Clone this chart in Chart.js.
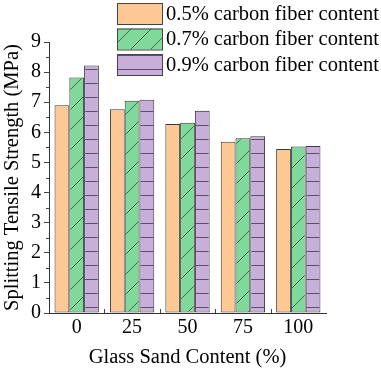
<!DOCTYPE html>
<html>
<head>
<meta charset="utf-8">
<script src="https://cdn.jsdelivr.net/npm/chart.js@4.4.0/dist/chart.umd.min.js"></script>
<style>
html,body{margin:0;padding:0;background:#fff;}
#wrap{width:381px;height:373px;}
</style>
</head>
<body>
<div id="wrap"><canvas id="c" width="381" height="373"></canvas></div>
<script>
const categories = ['0', '25', '50', '75', '100'];
const seriesLabels = ['0.5% carbon fiber content', '0.7% carbon fiber content', '0.9% carbon fiber content'];
const fiber05 = [6.9, 6.77, 6.28, 5.69, 5.45];
const fiber07 = [7.82, 7.05, 6.32, 5.8, 5.53];
const fiber09 = [8.22, 7.08, 6.72, 5.87, 5.55];
const yTicks = [0, 1, 2, 3, 4, 5, 6, 7, 8, 9];

const FONT = "'Liberation Serif', 'Times New Roman', serif";

function diagPattern(bg, line) {
  const s = 20;
  const c = document.createElement('canvas');
  c.width = s; c.height = s;
  const g = c.getContext('2d');
  g.fillStyle = bg; g.fillRect(0, 0, s, s);
  g.strokeStyle = line; g.lineWidth = 1;
  g.beginPath();
  g.moveTo(0, s); g.lineTo(s, 0);
  g.moveTo(-2, 2); g.lineTo(2, -2);
  g.moveTo(s - 2, s + 2); g.lineTo(s + 2, s - 2);
  g.stroke();
  return g.createPattern(c, 'repeat');
}
function horizPattern(bg, line) {
  const s = 14;
  const c = document.createElement('canvas');
  c.width = s; c.height = s;
  const g = c.getContext('2d');
  g.fillStyle = bg; g.fillRect(0, 0, s, s);
  g.fillStyle = line; g.fillRect(0, s - 1, s, 1);
  return g.createPattern(c, 'repeat');
}

const orange = '#FEC894';
const greenPat = diagPattern('#80D99B', '#3d6e4b');
const purplePat = horizPattern('#C8AFDA', '#5d4f6b');

const legendPlugin = {
  id: 'customLegend',
  afterDraw(chart) {
    const ctx = chart.ctx;
    ctx.save();
    chart.data.datasets.forEach((ds, i) => {
      const x = 117, y = 3 + i * 25.5, w = 45, h = 21;
      ctx.fillStyle = ds.backgroundColor;
      ctx.fillRect(x, y, w, h);
      ctx.strokeStyle = '#444';
      ctx.lineWidth = 1;
      ctx.strokeRect(x + 0.5, y + 0.5, w, h);
      ctx.fillStyle = '#000';
      ctx.font = '20.5px ' + FONT;
      ctx.textBaseline = 'middle';
      ctx.textAlign = 'left';
      ctx.fillText(ds.label, 166, y + h / 2 + 1);
    });
    ctx.restore();
  }
};

const minorTicks = {
  id: 'minorTicks',
  afterDraw(chart) {
    const ctx = chart.ctx;
    const y = chart.scales.y, x = chart.scales.x;
    ctx.save();
    ctx.strokeStyle = '#444';
    ctx.lineWidth = 1;
    ctx.beginPath();
    for (let i = 0; i < yTicks.length - 1; i++) {
      const py = Math.round(y.getPixelForValue(yTicks[i] + 0.5)) + 0.5;
      ctx.moveTo(x.left - 3, py); ctx.lineTo(x.left, py);
    }
    for (let i = 0; i < categories.length - 1; i++) {
      const px = Math.round((x.getPixelForValue(i) + x.getPixelForValue(i + 1)) / 2) + 0.5;
      ctx.moveTo(px, y.bottom); ctx.lineTo(px, y.bottom - 4);
    }
    ctx.stroke();
    ctx.restore();
  }
};

new Chart(document.getElementById('c'), {
  type: 'bar',
  data: {
    labels: categories,
    datasets: [
      { label: seriesLabels[0], data: fiber05, backgroundColor: orange },
      { label: seriesLabels[1], data: fiber07, backgroundColor: greenPat },
      { label: seriesLabels[2], data: fiber09, backgroundColor: purplePat }
    ]
  },
  options: {
    responsive: false,
    animation: false,
    devicePixelRatio: 1,
    layout: { padding: { top: 42, right: 55, left: 0, bottom: 0 } },
    datasets: {
      bar: {
        borderColor: '#3a3a3a',
        borderWidth: 1,
        borderSkipped: false,
        categoryPercentage: 0.8,
        barPercentage: 1.0
      }
    },
    plugins: {
      legend: { display: false },
      tooltip: { enabled: false }
    },
    scales: {
      x: {
        grid: { display: false, drawTicks: false },
        border: { display: true, color: '#333', width: 1 },
        ticks: { color: '#000', font: { family: FONT, size: 20 }, padding: 3, maxRotation: 0 },
        title: { display: true, text: 'Glass Sand Content (%)', color: '#000', font: { family: FONT, size: 20.5 }, padding: { top: 0, bottom: 3 } },
        afterFit(s) { s.height = 60; }
      },
      y: {
        min: 0, max: 9,
        afterBuildTicks(s) { s.ticks = yTicks.map(v => ({ value: v })); },
        grid: { drawOnChartArea: false, drawTicks: true, tickLength: 5, color: '#444' },
        border: { display: true, color: '#333', width: 1 },
        ticks: { color: '#000', font: { family: FONT, size: 20 }, padding: 3 },
        title: { display: true, text: 'Splitting Tensile Strength (MPa)', color: '#000', font: { family: FONT, size: 20.5 }, padding: { top: 0, bottom: 0 } },
        afterFit(s) { s.width = 49; }
      }
    }
  },
  plugins: [legendPlugin, minorTicks]
});
</script>
</body>
</html>
